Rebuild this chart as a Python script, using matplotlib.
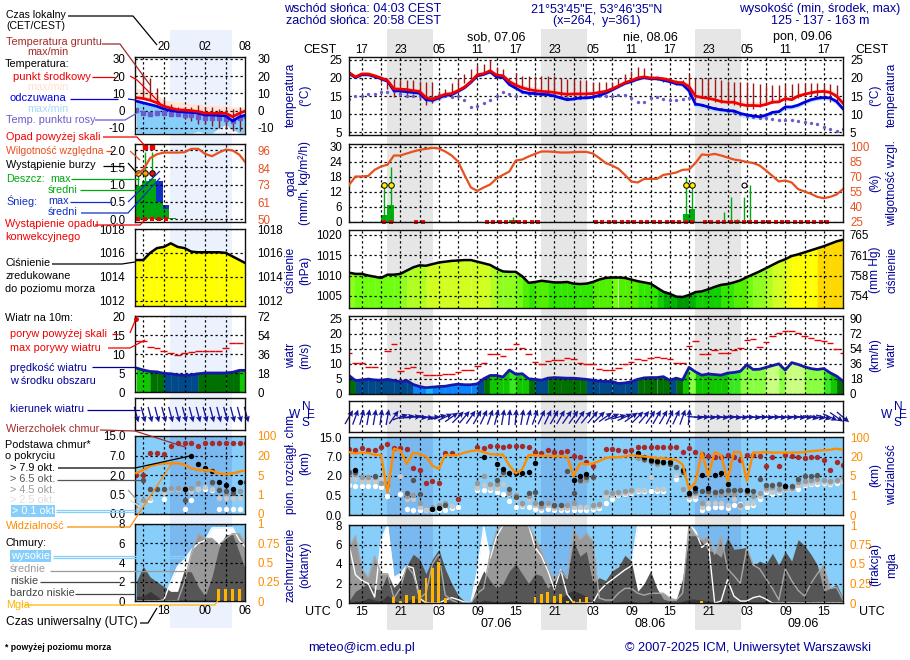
import numpy as np
import matplotlib
matplotlib.use('Agg')
import matplotlib.pyplot as plt
from matplotlib.patches import Rectangle

plt.rcParams['font.family'] = ['Liberation Sans', 'DejaVu Sans']
plt.rcParams['axes.unicode_minus'] = False
FS = 9.0
LEG = 7.8
TICK = 8.3
NAVY = '#000099'
ORANGE = '#ff8c00'
RH_COL = '#e8501e'
BROWN = '#a52a2a'
SKY = '#87cefa'
SKY_NIGHT = '#7ab9ef'
N = np.nan

# ================= dane: panel glowny (godziny od 13 UTC) =================
t_mid = [21.5,20.3,21.1,21.1,20.6,20.0,19.3,17.0,16.9,16.8,
         16.5,16.3,14.6,14.1,14.8,15.5,15.7,16.5,17.5,19.0,
         20.9,21.2,22.0,20.8,20.6,19.0,18.0,17.3,16.8,16.5,
         16.3,16.2,16.0,15.7,15.5,15.6,15.6,15.6,15.7,16.0,
         16.3,17.0,17.8,18.7,19.3,20.0,20.3,20.0,20.0,19.8,
         19.4,18.8,18.7,17.6,15.0,14.6,14.4,14.0,13.5,13.3,
         13.3,12.7,12.4,12.4,12.3,12.7,13.3,13.4,14.3,14.0,
         15.0,15.5,15.9,16.2,16.3,16.0,15.0,13.0]
t_mid_max = [22,21,21.8,21.8,21.3,20.6,19.9,18,17.6,17.5,
             17.2,17,15.5,15,15.6,16.2,16.5,17.2,18,19.5,
             21.3,21.7,22.5,21.4,21.2,20,18.9,18.2,17.8,17.5,
             17.2,17,16.8,16.5,16.3,16.4,16.4,16.4,16.5,16.7,
             17,17.6,18.3,19.2,19.8,20.5,20.8,20.5,20.4,20.2,
             19.9,19.4,19.3,18.5,16,15.6,15.4,15,14.6,14.4,
             14.3,13.8,13.5,13.5,13.5,13.8,14.3,14.3,15,14.8,
             15.7,16.2,16.6,16.9,17,16.8,15.8,13.8]
t_feels = [21.3,20.1,20.9,20.9,20.4,19.8,19.1,16.5,16.4,16.2,
           16.0,15.8,14.0,13.8,14.5,15.2,15.4,16.3,17.3,18.8,
           20.6,21,21.7,20.3,20.2,18.2,17.2,16.2,15.8,15.7,
           15.5,15.4,15,14.5,14,14.2,14.5,14.5,14.7,15.2,
           15.8,16.7,17.6,18.5,19,19.7,20.1,19.8,19.8,19.4,
           19,18.4,18.2,16.5,12.8,12.5,12,11.5,11.2,11,
           10.9,10.2,9.8,9.5,9.3,9.7,10.5,10.7,12,12,
           12.5,13.3,14,14.4,14.6,14.5,13.5,11.5]
t_feels_min = [21,19.8,20.5,20.5,20,19.4,18.7,15.8,15.6,15.4,
               15.2,15,13.3,13,13.8,14.6,15,15.9,17,18.4,
               20.2,20.6,21.2,19.8,19.7,17.7,16.6,15.6,15.3,15.2,
               15,14.9,14.5,14,13.6,13.8,14.1,14.1,14.3,14.8,
               15.4,16.3,17.2,18.1,18.6,19.3,19.7,19.4,19.4,19,
               18.6,18,17.6,15.5,12,11.7,11.2,10.8,10.4,10.2,
               10,9.3,8.9,8.6,8.6,9,9.8,10,11.3,11.3,
               11.8,12.7,13.4,13.8,14,13.8,12.7,10.8]
t_dew = [14.2,15,15,15.5,15.5,16,16,16.5,15.5,15,
         15,15,14.7,14.5,15.2,15,14.8,15,14,12,
         12.3,13,14,15,16.2,15.5,15,16,15.5,15.5,
         15.5,15.5,15.2,14.8,14.5,14.5,14.5,14.8,15,15,
         15,15,15.2,15.3,14.5,13.3,13.5,14.5,14.7,14.3,
         14,14,14.3,14.5,12.8,12.5,12,11.8,11.3,11,
         10.5,10,9.5,9.3,9,9,8.8,8.3,8.3,8.5,
         8,7.8,7.5,7.2,6.5,5.8,5.3,6]
ground_max = [N,N,N,N,N,20,20,19.8,19.5,19.5,
              19.5,19.3,19,19,16.5,17,18.5,20,21,22.5,
              23.5,24,25,23,22.5,20,21.5,20.5,20.5,20.5,
              20.5,20.5,20.5,20,19.7,19.7,19.5,19.5,19,19,
              18.8,19,20,21,22,23,22.8,21,20.5,20,
              19.5,19.5,19.5,21,20,20,20,19.8,19.5,19.3,
              19,19,19,18.7,18.3,18,18,18,18.3,18.3,
              18.5,18.5,18.5,18.5,18.3,18.3,18,N]
ground_min = [N,N,N,N,N,19,17,14.7,15,15,
              15.5,14,12.5,13,14,15.5,16,17,18.5,20,
              20.5,21,21.5,20.5,20,18,18,17,16.5,16,
              16,15.8,15.5,15,15,15,15,15,15.2,15.5,
              16,17,17.5,18.5,19,19.5,20,19.5,19.5,19,
              18.5,18,18,16,14,14.5,14,13.5,13,13,
              12.5,12,11.8,11.5,12,13,13,13.5,13.5,14,
              14.5,15,15,15,14.5,13.5,13,N]
rh = [61.5,70,70,70.6,76.7,80,81.8,91,91,93,
      95,96.6,97.6,98.6,98,95,91,85,71.6,59,
      55.7,59,62,68,71.6,75,86,87,90,92.6,
      95,95,94.6,94,94,94.3,94.6,94.6,93,88.5,
      83.5,81,77.7,71.6,65,64,67.6,67.6,67.6,71.6,
      72.6,74,76.7,77,83.5,92,91.5,92.6,91,89,
      87,86,84.5,83.5,81,76,70.6,65,66,64,
      57.4,55,52.7,49.6,48.3,49.6,52,57.4]
rain_h = [5.5,6.5,25.5,52.5,53.5,60.5]
rain_mean = [2.5,6.5,0.6,3,5,0.7]
rain_max_h = [5.5,6.5,25.5,52.5,53.5,58.5,59.5,60.5,61.5,62.5]
rain_max = [14.5,22,2,18,14,4,10,1,10,14.5]
storm_h = [5.5,6.5,52.5,53.5]
storm_val = [14.5,14.5,14.5,14.5]
storm_open_h = [61.5]
storm_open_val = [14.5]
conv_h = [5.5,6.5,10.5,11.5,21.5,22.5,23.5,24.5,25.5,26.5,27.5,28.5,29.5,
          38.5,39.5,40.5,41.5,42.5,43.5,44.5,45.5,46.5,47.5,48.5,49.5,50.5,51.5,
          52.5,53.5,55.5,56.5,57.5,58.5,59.5,60.5,61.5,62.5,63.5,64.5,65.5,66.5,
          67.5,68.5,69.5,70.5,71.5,72.5,73.5,74.5]
pressure = [1010.7,1010.4,1010.4,1010,1009.7,1009.4,1010.2,1010.2,1010.4,1011.2,
            1012,1012.5,1012.4,1012.8,1013.2,1013.4,1013.6,1013.7,1013.8,1013.8,
            1013.4,1013,1012.6,1011.7,1011,1010.9,1010.9,1009.8,1008.2,1008.4,
            1008.7,1008.5,1008.3,1008.3,1008.4,1008,1007.9,1008,1008.4,1009,
            1009.4,1009.5,1009.5,1009.4,1009,1008.6,1008.3,1008,1007,1006,
            1005.5,1004.8,1004.7,1005.2,1005.9,1006.1,1006.6,1007.2,1007.7,1007.9,
            1008.3,1008.8,1009.6,1010.3,1011,1011.8,1012.6,1013.4,1014,1014.8,
            1015.2,1015.7,1016.2,1016.7,1017.2,1017.8,1018.4,1018.8]
wind = [6.1,4.4,4.6,4.9,4.6,4.5,4.8,4.4,4,4.4,
        3.1,2.4,2,2.2,2.4,2.5,2.9,3.2,3,3,
        3.3,5,6.1,6.1,5.6,7.9,6.5,6.7,5,4.8,
        4.5,5.2,5.4,5.3,5.2,5.2,5,4.8,4.5,4.2,
        4.1,4.1,3.4,3.6,4,4.8,5.3,5.4,5.4,5.7,
        4.5,5.2,4.6,8.8,7.3,6.2,6.6,6.4,6.2,6.9,
        7.1,7.5,9.7,8.1,8.2,8.8,9.4,10,7.9,10.4,
        9.8,9,8.4,8.1,8.4,7,5.9,4.2]
gust = [13.6,10.3,10.3,9,9,N,14.3,16.7,7.7,8.6,
        9,7.4,6.1,6.3,6.3,6.5,6.5,7.2,8,8,
        9.3,10.3,13.3,13.3,12.6,15,16.7,15.3,13.4,10.6,
        10,10.8,11.3,11.3,12,11.6,10.3,10,10,8.3,
        8,8,8.6,10,10.6,11.6,11.3,12,12.3,12,
        11.6,10.3,10.3,15.8,17.6,13.3,13.3,14.6,13.6,13.6,
        14.6,15.3,17.9,18.3,15.6,17.3,19.2,20.2,21,21,
        20.2,19.2,18.8,17.9,17.6,17,15,13.6]
wind_dir = [30,20,15,10,10,8,10,35,70,80,
            85,95,100,90,75,65,55,45,40,35,
            30,25,20,15,10,5,5,10,15,20,
            25,25,30,30,35,35,35,40,40,45,
            55,65,75,65,55,45,40,35,30,30,
            25,25,20,5,95,90,95,90,95,90,
            95,95,90,95,90,95,90,95,95,90,
            95,95,100,100,105,115,125,130]
vis = [37.6,32,36,34,27,26,1.6,52,45,14.3,
       36,30,20,13,10.4,26,25,26,36,42,
       46,38,30,28,28,13,7.1,10,26,25,
       23,23,21,21,20,5,14.6,14,14.6,16.5,
       18.7,19.5,19.5,20,25,23,20,19.5,18.7,18.7,
       18,17.4,13.8,2.3,3.7,38,5,38,26,4,
       38,38,4,36,36,38,36,36,36,36,
       36,38,42,44,46,48,52,48]
cl_top = [10.2,9.5,10.4,9.8,9.8,10.9,12,10.5,10.3,10,
          4,3.5,1.5,1.6,1.5,8.6,8.4,.4,N,N,
          10.9,10.6,11.4,11.4,10.9,11.4,11.4,11.4,10.9,8.8,
          8.4,9.7,8.8,8.8,9.2,7.1,7,5.5,4.5,N,
          9.9,10.1,9.8,9.2,9.8,10.9,10.9,10.9,10.9,10.9,
          10.9,10.9,8.9,10.4,8.9,8.1,7.2,6.9,7,7.7,
          6.8,6.2,7.7,7.7,7.3,4.5,6.9,4.5,7.7,7.2,
          7,6.6,7,6.8,6.2,3.5,5.5,4.8]
cl_black_h = [1,13,14,21,23,24,25,26,27,28,29,35,36,37,45,46,47,48,49,50,52,53,54,55,56,57,58,59,62,68]
cl_black = [3.5,.15,.17,7,5.1,3.9,2.7,2.7,2.7,3,5.3,1.66,2,2.4,8.5,7,6,5.8,5.7,5.5,3.5,.68,1.04,2.3,1.1,2.2,2.8,1.38,.93,1.25]
cl_dark = [3,3,N,N,2,N,1.4,N,N,.7,
           1.7,.6,N,.15,N,.25,N,N,N,N,
           N,N,N,1.7,3,1,.45,N,.7,.75,
           .3,N,.25,.25,3.2,.7,1.7,1.9,1.9,N,
           N,N,N,N,N,7.5,6.4,5.8,5.5,5.5,
           5.2,4.4,3,.6,.85,.85,.85,.8,.85,.9,
           .9,.9,.85,.85,1.8,1.3,1.3,1.4,1.2,1.2,
           1.8,2,2.1,2.2,N,N,N,N]
cl_grey = [2.6,2.6,1.9,1.9,1.9,1.5,1.2,N,N,.5,
           .55,.3,N,.2,.25,.3,N,N,N,N,
           1.5,2,1.4,1.4,2.4,.7,.55,.3,.5,.3,
           .22,.3,.22,.25,.25,.3,1.6,1.7,.25,.28,
           .75,.7,.8,.85,.9,6.5,6,5.5,5.2,5.3,
           5,4.2,1,.55,.7,.3,.65,.6,.65,.7,
           .65,.25,.7,.5,.7,1.1,1.15,1,1.05,1.05,
           1.55,1.6,1.7,1.8,1.7,1.6,1.7,1.9]
cl_light = [1.8,1.8,1.6,1.6,1.6,1.8,1,N,2.1,.4,
            .4,.2,.13,.17,.25,.3,.24,N,N,N,
            1.1,1.3,1.1,1.1,1.4,.6,.4,.25,.4,.25,
            .18,.25,.18,.18,.18,.2,.2,.2,.2,.22,
            .5,.55,.65,.7,.8,.95,.95,1.9,1,1,
            N,2.2,1,.45,.5,.2,.3,.3,.3,.25,
            .4,.2,.3,.3,.5,.9,.8,.85,1,1,
            1.3,1.4,1.5,1.55,1.55,1.5,1.6,1.7]
cl_white = [1.3,1.25,1.22,1.22,1.22,1.12,.49,N,.65,.15,
            .14,.14,.14,.12,.14,.14,.19,.21,N,N,
            .95,.9,.9,.76,.65,.37,.21,.22,.21,.15,
            .14,.15,.14,.14,.14,.14,.14,.14,.15,.17,
            .3,.42,.55,.6,.68,.86,.86,.86,.88,.88,
            N,1.8,N,.4,.42,.14,.19,.21,.21,.19,
            .26,.28,.21,.26,.42,.8,.65,.76,.99,1.03,
            1.03,1.3,1.38,1.42,1.46,1.42,1.5,1.58]
cloud_high = [6,2.9,2.3,2,.6,6.4,8,2.6,3,3.8,
              3.6,.5,0,0,0,.3,.55,.35,.1,0,
              3.3,7.8,4.6,6.8,8,8,8,8,8,5.7,
              4.8,3.3,1.4,3.4,.9,0,0,0,0,1.2,
              1.9,2.4,2.9,3.4,3.8,8,7.8,8,8,8,
              8,8,7.8,8,7.4,5.7,6.2,0,.2,2.4,
              .7,.2,.2,.55,.7,.4,0,0,0,0,
              0,0,0,0,0,0,0,0]
cloud_mid = [5.7,6.9,3.5,2.6,4.8,3,3,.5,1.5,3.8,
             3,.5,1,4,5,.8,.3,0,0,0,
             1,1.5,5,7.4,8,8,8,8,8,6.7,
             5.3,3.6,2.3,3.3,2.5,7.6,6.5,7.2,6.3,.5,
             .3,.3,1,1.5,1.5,1,.8,1,1,1,
             .5,.3,1,8,7,6.5,6.8,5,6.9,3.5,
             2.8,2,5.7,3.9,3.5,2.5,1.5,.3,3.5,2.3,
             1.3,.7,2,3,3.9,1.5,1.6,.3]
cloud_low = [.2,1.2,1.6,2,1.4,1.4,3,1.6,2.3,3.8,
             5,4.5,3,4.5,5.5,3.5,2,.8,.2,0,
             1.8,3.3,2.3,1.5,2,3.3,4,3,2,3,
             2.8,1.5,2.3,3.5,2.6,6.3,4.8,5.3,2,2.6,
             2.3,3.3,3.7,4.9,4.3,1.2,2,3.3,1.5,.4,
             .2,.3,2.5,6.9,6.9,6.3,5.4,5.2,4.7,6.7,
             5.5,5.6,5.7,3.8,4.3,4,5.1,3.9,5.3,4.3,
             6.5,5.9,5,3.9,1.2,1.5,1.9,.5]
cloud_vlow = [0,.2,.2,.5,.3,.2,.8,.3,0,.2,
              .5,.4,.1,.2,.3,.2,0,0,0,0,
              0,.3,.2,.1,.1,.2,.2,.1,0,0,
              0,0,0,.5,1,1.3,1,.7,0,0,
              0,0,.1,.2,.2,0,0,.2,0,0,
              0,0,.2,.4,.4,.3,.2,.2,.2,.3,
              .2,.2,.2,.1,.1,.1,.2,.1,.2,.1,
              .2,.2,.2,.1,0,0,0,0]
fog_h = [7,8,9,10,11,12,13,14,15,29,30,31,32,33,34,35,36,37,55]
fog = [.08,.03,.1,.09,.17,.32,.45,.52,.07,.08,.12,.145,.09,.11,.03,.03,.05,.08,.03]

# ================= dane: male panele legendy (14-30 UTC) =================
s_mid = [7.5,7,6,4.5,2.5,1.5,.5,.3,0,-.5,-1.5,-1.5,-1.5,-1.5,-3.5,-1.5,0]
s_mid_max = [13,12,11,9,6.5,5.5,5,4.5,4,3.8,3.2,3,3,2.8,2.2,2,2]
s_feels = [5.5,4.5,3.5,2.5,1,0,-.5,-.8,-1,-1.5,-2.5,-2.5,-2.8,-3,-6,-3.5,-2.5]
s_feels_min = [-13,-13,-13,-13,-13,-13,-13,-13,-13,-12,-13,-13,-10,-8,-11,-13,-13]
s_dew = [.5,-1.5,-2,-1.5,-1.5,-2,-2,-2.5,-2.5,-3.5,-4,-4.5,-4.5,-5,-6,-4,-3]
s_ground_max = [N,21,19,13,7,4,2,2,2,3,2,2,1,1,1,2,3]
s_ground_min = [N,7,6,4,1,-2,-3,-4,-6,-8,-8,-9,-10,-10,-12,-12,-4]
s_rh = [80,83,90.7,93.3,94.4,94.4,94.4,94.6,96.9,96.9,93.5,92,94.4,96.4,95.8,92.9,87]
s_rain_h = [14.3,15.3,16.3,17.3,18.3,19.3]
s_rain = [.95,1.1,1.18,.5,.3,.05]
s_snow = [.95,1.1,1.18,1.1,.4,.05]
s_rain_max = [1.35,1.95,1.95]
s_storm_col = ['#ffee00','#ffa000','#e81010']
s_pressure = [1015.4,1015.4,1016,1016.4,1016.5,1016.8,1016.5,1016.4,1016.1,1016.05,1016.05,1016.05,1016.05,1016,1015.7,1015.4,1015.1]
s_wind = [6.3,5.8,5.4,5.3,4.9,4.8,4.5,4.4,4.5,4.8,5,5,5,5,5.2,5.7,5.7]
s_gust = [13.5,13.5,11.8,11.5,10.8,10.3,9.8,10.3,10.6,10.8,10.9,10.7,10.7,11.6,12.8,13,N]
s_dir = [165,165,165,165,165,165,165,165,165,165,165,165,165,165,165,165,165]
s_top = [2,2,8,8,7.5,11,12,12,12,11,12,12,12,12,12,12,12]
s_black = [N,N,N,N,N,N,N,.95,7,4.7,3.9,3.1,1.5,1.2,.95,1.5,N]
s_dark = [N,1.6,.95,.95,.95,N,N,.35,N,N,N,1.5,.85,.75,.65,N,1.5]
s_grey = [.23,.35,.9,.9,.95,1,1,1,1,1.35,3.2,1.35,.9,.65,.75,.75,N]
s_light = [.18,.3,.4,N,.7,.95,.95,.9,.8,.9,1.1,.95,.4,.4,.4,.4,N]
s_white = [N,.35,.35,N,.38,N,N,.12,.35,.9,.9,.85,.12,.12,.12,.12,N]
s_vis = [6.5,8.8,11.9,13.2,14,14,14,13,10,8.8,8.8,8.3,6.3,5.5,6.3,7.5,8.8]
s_high = [0,0,0,0,.1,2,3.6,4.3,5.3,6,6.3,7.6,7.6,7.6,7.6,6.3,5.5]
s_cmid = [0,0,0,0,0,0,0,2,5,7,6.5,6.5,5.8,6.5,7,7,5.7]
s_low = [2,3.6,2.5,2,1.5,1,1,3.3,3,1.5,.5,2.5,5.5,6.9,6.9,5,3]
s_vlow = [.5,.5,1,.5,0,0,0,0,0,0,0,0,0,0,0,0,0]
s_fog_h = [26,27,28,29]
s_fog = [.15,.15,.15,.15]

# ================= etykiety =================
cest_labels = ['17','23','05','11','17','23','05','11','17','23','05','11','17']
utc_labels = ['15','21','03','09','15','21','03','09','15','21','03','09','15']
date_labels = ['07.06','08.06','09.06']
day_labels = ['sob, 07.06','nie, 08.06','pon, 09.06']
night_spans = [(5.97,13.05),(29.97,37.05),(53.95,61.05)]

hours = np.arange(78)
s_hours = np.arange(14,31)
MAIN_X = (349,843)
SMALL_X = (135,245)

fig = plt.figure(figsize=(9.1,6.6),dpi=100,facecolor='white')


def new_axes(box,y_top,y_bot,zorder=2):
    a = fig.add_axes([box[0]/910,1-y_bot/660,(box[1]-box[0])/910,(y_bot-y_top)/660])
    a.set_facecolor('none')
    a.set_zorder(zorder)
    for s in a.spines.values():
        s.set_linewidth(1.0)
        s.set_color('#111111')
        s.set_zorder(6)
    a.set_axisbelow(False)
    a.grid(True,color='k',ls=(0,(1.8,2.2)),lw=0.9)
    return a


def setup(a,small,yl,yt,ylab=None,ry=None,ryt=None,rlab=None,rcol='k'):
    pad = 7 if small else 5
    a.tick_params(length=0,labelsize=TICK,pad=pad)
    if small:
        a.set_xlim(13.8,29.8)
        a.set_xticks(np.arange(15,30,3))
    else:
        a.set_xlim(0,77)
        a.set_xticks(np.arange(2,77,3))
    a.set_xticklabels([])
    a.set_ylim(*yl)
    a.set_yticks(yt)
    if ylab is not None:
        a.set_yticklabels(ylab)
    b = a.twinx()
    b.set_zorder(a.get_zorder()+1)
    b.set_ylim(*(ry if ry is not None else yl))
    b.set_yticks(ryt if ryt is not None else yt)
    if rlab is not None:
        b.set_yticklabels(rlab)
    elif ylab is not None and ryt is None:
        b.set_yticklabels(ylab)
    b.tick_params(length=0,labelsize=TICK,pad=pad+2 if small else pad,labelcolor=rcol)
    for s in b.spines.values():
        s.set_visible(False)
    return b


def step_color(v,edges,colors):
    return colors[int(np.digitize(v,edges))]


def value_fill(a,x,v,base,edges,colors):
    for i in range(len(x)-1):
        c = step_color(0.5*(v[i]+v[i+1]),edges,colors)
        a.fill_between(x[i:i+2],base,v[i:i+2],color=c,lw=0.2,zorder=1)


P_EDGES = [1005,1006,1007.5,1008.5,1009.5,1010.5,1011.5,1012.5,1014,1015,1016.7]
P_COLS = ['#009a00','#00b400','#10d000','#30e800','#50f000','#70ff10','#90ff20','#b0ff20','#d0ff20','#f0ff10','#ffff00','#ffd800']
W_EDGES = [2.2,3.5,4.9,5.6,7,8,9,10.2]
W_COLS = ['#10b8ff','#0a84ff','#004a8c','#007000','#10c800','#38e820','#88ff40','#c8ff80','#ffff40']

CL_KM = [0,.5,2,7,15]
VIS_KM = [0,1,5,20,100]
POS = [0,1,2,3,4]


def cl_f(v):
    return np.interp(v,CL_KM,POS)


def cl_i(v):
    return np.interp(v,POS,CL_KM)


def vis_f(v):
    return np.interp(v,VIS_KM,POS)


def vis_i(v):
    return np.interp(v,POS,VIS_KM)


def panel_temp(box,small,top,bot):
    x = s_hours if small else hours
    a = new_axes(box,top,bot)
    if small:
        setup(a,True,(-13.5,31),[-10,0,10,20,30])
        a.fill_between(x,s_mid,s_mid_max,color='#ffe4d6',lw=0,zorder=1)
        a.fill_between(x,s_feels_min,s_feels,color=SKY,lw=0,zorder=1)
        a.vlines(x,s_ground_min,s_ground_max,color='#8b1a1a',lw=1,zorder=3)
        a.plot(x,s_dew,ls='none',marker='s',ms=2.4,color='#6a5acd',zorder=3)
        a.plot(x,s_feels,color='#0000e0',lw=2,zorder=4)
        a.plot(x,s_mid,color='#f00000',lw=2,zorder=5)
    else:
        setup(a,False,(4.25,25.8),[5,10,15,20,25])
        a.fill_between(x,t_mid,t_mid_max,color='#ffd8d0',alpha=0.8,lw=0,zorder=1)
        a.fill_between(x,t_feels_min,t_feels,color='#b8e4fc',alpha=0.9,lw=0,zorder=1)
        a.vlines(x,ground_min,ground_max,color='#a01818',lw=1,zorder=3)
        a.plot(x,t_dew,ls='none',marker='o',ms=2.4,color='#6a5acd',mew=0,zorder=3)
        a.plot(x,t_feels,color='#0000e0',lw=2,zorder=4)
        a.plot(x,t_mid,color='#f00000',lw=2,zorder=5)


def panel_rain(box,small,top,bot):
    a = new_axes(box,top,bot)
    if small:
        b = setup(a,True,(-0.08,2.18),[0,.5,1,1.5,2],['0.0','0.5','1.0','1.5','2.0'],
                  ry=(48.2,100.1),ryt=[50,61,73,84,96],rcol=RH_COL)
        a.bar(s_rain_h,s_snow,width=1,color='#1030c8',lw=0,zorder=1)
        a.bar(s_rain_h,s_rain,width=1,color='#00a810',lw=0,zorder=1.2)
        a.vlines(s_rain_h[:3],s_rain[:3],s_rain_max,color='#00a810',lw=1,zorder=3)
        for h,c in zip(s_rain_h[:3],s_storm_col):
            a.plot([h],[1.35],marker='o',ms=4,mfc=c,mec='k',mew=.7,zorder=6)
        a.plot(s_rain_h[1:3],[2.1,2.1],ls='none',marker='s',ms=2.5,color='#f00000',zorder=6,clip_on=False)
        a.plot(s_rain_h[:5],[0]*5,ls='none',marker='s',ms=2.2,color='#f00000',mew=0,zorder=6,clip_on=False)
        b.plot(s_hours,s_rh,color=RH_COL,lw=1.6,zorder=5)
    else:
        b = setup(a,False,(-.2,31),[0,6,12,18,24,30],
                  ry=(24.5,102.5),ryt=[25,40,55,70,85,100],rcol=RH_COL)
        a.bar(rain_h,rain_mean,width=1,color='#00b010',lw=0,zorder=1)
        a.vlines(rain_max_h,0,rain_max,color='#00a810',lw=1,zorder=3)
        a.plot(storm_h,storm_val,ls='none',marker='o',ms=4,mfc='#ffee00',mec='k',mew=.7,zorder=6)
        a.plot(storm_open_h,storm_open_val,ls='none',marker='o',ms=3.6,mfc='white',mec='k',mew=.8,zorder=6)
        a.plot(conv_h,[0]*len(conv_h),ls='none',marker='s',ms=2.4,color='#f01010',mew=0,zorder=6,clip_on=False)
        b.plot(hours,rh,color=RH_COL,lw=1.6,zorder=5)


def panel_press(box,small,top,bot):
    a = new_axes(box,top,bot)
    if small:
        setup(a,True,(1011.55,1018),[1012,1014,1016,1018])
        value_fill(a,s_hours,s_pressure,1011.55,P_EDGES,P_COLS)
        a.plot(s_hours,s_pressure,color='k',lw=1.8,zorder=5)
    else:
        setup(a,False,(1002,1021.2),[1005,1010,1015,1020],ryt=[1005,1010,1015,1020],
              rlab=['754','758','761','765'])
        value_fill(a,hours,pressure,1002,P_EDGES,P_COLS)
        a.plot(hours,pressure,color='k',lw=1.8,zorder=5)


def panel_wind(box,small,top,bot):
    a = new_axes(box,top,bot)
    if small:
        setup(a,True,(0,20),[0,5,10,15,20],ry=(0,20),ryt=[0,5,10,15,20],rlab=['0','18','36','54','72'])
        value_fill(a,s_hours,s_wind,0,W_EDGES,W_COLS)
        a.plot(s_hours,s_wind,color='#1818a8',lw=2,zorder=5)
        a.hlines(s_gust,s_hours-.5,s_hours+.5,color='#f00000',lw=1,zorder=5)
        a.plot([14],[19.2],marker='o',ms=2.5,color='#f00000',zorder=6,clip_on=False)
    else:
        setup(a,False,(-.1,26),[0,5,10,15,20,25],ryt=[0,5,10,15,20,25],
              rlab=['0','18','36','54','72','90'])
        value_fill(a,hours,wind,0,W_EDGES,W_COLS)
        a.plot(hours,wind,color='#1818a8',lw=2,zorder=5)
        a.hlines(gust,hours-.5,hours+.5,color='#f00000',lw=1,zorder=5)


def panel_dir(box,small,top,bot):
    a = new_axes(box,top,bot)
    a.tick_params(length=0)
    if small:
        a.set_xlim(13.8,29.8)
        a.set_xticks(np.arange(15,30,3))
        x,d = s_hours,np.radians(s_dir)
    else:
        a.set_xlim(0,77)
        a.set_xticks(np.arange(2,77,3))
        x,d = hours,np.radians(wind_dir)
    a.set_xticklabels([])
    a.set_ylim(0,1)
    a.set_yticks([])
    q = a.quiver(x,np.full(len(x),.48),16*np.sin(d),16*np.cos(d),angles='uv',scale_units='dots',scale=1,
                 units='dots',width=1.3,headwidth=4.6,headlength=4.8,headaxislength=4.2,pivot='mid',
                 color='#16169a',zorder=4)
    q.set_clip_on(False)


def panel_base(box,small,top,bot):
    a = new_axes(box,top,bot)
    a.set_yscale('function',functions=(cl_f,cl_i))
    x = s_hours if small else hours
    b = setup(a,small,(0,15),[0,.5,2,7,15],['0.0','0.5','2.0','7.0','15.0'],
              ry=(0,100),ryt=[0,1,5,20,100],rlab=['0','1','5','20','100'],rcol=ORANGE)
    b.set_yscale('function',functions=(vis_f,vis_i))
    b.set_ylim(0,100)
    b.set_yticks([0,1,5,20,100])
    b.set_yticklabels(['0','1','5','20','100'])
    b.minorticks_off()
    a.minorticks_off()
    a.set_facecolor(SKY)
    if small:
        a.axvspan(18.9,27.9,color=SKY_NIGHT,lw=0,zorder=0.5)
        layers = [(s_white,'white'),(s_light,'#c8c8c8'),(s_grey,'#999999'),(s_dark,'#555555'),(s_top,BROWN)]
    else:
        for s in night_spans:
            a.axvspan(s[0],s[1],color=SKY_NIGHT,lw=0,zorder=0.5)
        layers = [(cl_white,'white'),(cl_light,'#c8c8c8'),(cl_grey,'#999999'),(cl_dark,'#555555'),(cl_top,BROWN)]
    ms = 15
    for vals,c in layers:
        a.scatter(x,vals,s=ms,color=c,lw=0,zorder=3)
    if small:
        a.scatter(x,s_black,s=ms,color='k',lw=0,zorder=3.5)
        b.plot(x,s_vis,color=ORANGE,lw=1.7,zorder=5)
    else:
        a.scatter(cl_black_h,cl_black,s=ms,color='k',lw=0,zorder=3.5)
        b.plot(x,vis,color=ORANGE,lw=1.7,zorder=5)


def panel_cloud(box,small,top,bot):
    a = new_axes(box,top,bot)
    b = setup(a,small,(0,8),[0,2,4,6,8],ry=(0,1),ryt=[0,.25,.5,.75,1],
              rlab=['0','0.25','0.5','0.75','1'],rcol=ORANGE)
    a.set_facecolor(SKY)
    x = s_hours if small else hours
    if small:
        a.axvspan(18.9,27.9,color=SKY_NIGHT,lw=0,zorder=0.5)
        h,m,l,v = s_high,s_cmid,s_low,s_vlow
    else:
        for s in night_spans:
            a.axvspan(s[0],s[1],color=SKY_NIGHT,lw=0,zorder=0.5)
        h,m,l,v = cloud_high,cloud_mid,cloud_low,cloud_vlow
    a.fill_between(x,0,h,color='white',lw=0,zorder=1)
    a.fill_between(x,0,m,color='#999999',lw=0,zorder=1.1)
    a.fill_between(x,0,l,color='#565656',lw=0,zorder=1.2)
    a.fill_between(x,0,v,color='#383838',lw=0,zorder=1.3)
    a.plot(x,h,color='white',lw=1,zorder=2)
    a.plot(x,m,color='#a8a8a8',lw=1,zorder=2)
    if small:
        b.bar(s_fog_h,s_fog,width=.45,color='#ffb400',lw=0,zorder=3)
    else:
        b.bar(fog_h,fog,width=.45,color='#ffb400',lw=0,zorder=3)


# ---- tlo: pasy nocy ----
bg = fig.add_axes([0,0,1,1],zorder=0)
bg.set_xlim(0,910)
bg.set_ylim(660,0)
bg.axis('off')
for x0,x1 in [(387,433),(541,587),(695,741)]:
    bg.add_patch(Rectangle((x0,29),x1-x0,601,color='#e6e6e6',lw=0))
bg.add_patch(Rectangle((170,30),62,598,color='#ebf2fd',lw=0))

# ---- panele ----
main_rows = [(57,135),(144,222),(230,308),(316,394),(401,432),(437,515),(525,603)]
small_rows = [(57,134),(144,222),(229,306),(316,392),(398,430),(436,514),(524,601)]
funcs = [panel_temp,panel_rain,panel_press,panel_wind,panel_dir,panel_base,panel_cloud]
for fn,r in zip(funcs,main_rows):
    fn(MAIN_X,False,r[0],r[1])
for fn,r in zip(funcs,small_rows):
    fn(SMALL_X,True,r[0],r[1])

# ---- warstwa tekstow i linii prowadzacych ----
fg = fig.add_axes([0,0,1,1],zorder=20)
fg.set_xlim(0,910)
fg.set_ylim(660,0)
fg.axis('off')


def txt(x,y,s,c='k',ha='left',rot=0,fs=FS,**kw):
    fg.text(x,y,s,color=c,ha=ha,va='center',rotation=rot,fontsize=fs,**kw)


def leg(x,y,s,c='k',fs=LEG):
    txt(x,y,s,c,fs=fs)


def lead(pts,c='k',lw=0.9):
    fg.plot([p[0] for p in pts],[p[1] for p in pts],color=c,lw=lw,solid_capstyle='butt')


txt(363,9,'wschód słońca: 04:03 CEST',NAVY,'center')
txt(363,21,'zachód słońca: 20:58 CEST',NAVY,'center')
txt(597,9,'21°53\'45"E, 53°46\'35"N',NAVY,'center')
txt(597,21,'(x=264,  y=361)',NAVY,'center')
txt(820,9,'wysokość (min, środek, max)',NAVY,'center')
txt(820,21,'125 - 137 - 163 m',NAVY,'center')
for x,s in zip([496,650,803],day_labels):
    txt(x,37,s,'k','center')
for x,s in zip([496,650,803],date_labels):
    txt(x,624,s,'k','center')
txt(320,50,'CEST','k','center')
txt(872,50,'CEST','k','center')
txt(318,612,'UTC','k','center')
txt(872,612,'UTC','k','center')
for i,(c,u) in enumerate(zip(cest_labels,utc_labels)):
    txt(362+i*38.5,50,c,'k','center',fs=TICK)
    txt(362+i*38.5,612,u,'k','center',fs=TICK)
for x,s in zip([164,205,245],['20','02','08']):
    txt(x,47,s,'k','center',fs=TICK)
for x,s in zip([164,205,245],['18','00','06']):
    txt(x,611,s,'k','center',fs=TICK)

# opisy osi
left_lab = [(95,'temperatura','(°C)'),(183,'opad','(mm/h, kg/m²/h)'),(270,'ciśnienie','(hPa)'),
            (355,'wiatr','(m/s)'),(463,'pion. rozciągł. chm.','(km)'),(565,'zachmurzenie','(oktanty)')]
right_lab = [(95,'(°C)','temperatura'),(183,'(%)','wilgotność wzgl.'),(270,'(mm Hg)','ciśnienie'),
             (355,'(km/h)','wiatr'),(475,'(km)','widzialność'),(565,'(frakcja)','mgła')]
for y,a1,a2 in left_lab:
    txt(291,y,a1,NAVY,'center',90,fs=8.6)
    txt(305,y,a2,NAVY,'center',90,fs=8.6)
for y,a1,a2 in right_lab:
    txt(875,y,a1,NAVY,'center',90,fs=8.6)
    txt(892,y,a2,NAVY,'center',90,fs=8.6)
for off in (0,-592):
    txt(898+off,407,'N',NAVY,'center',fs=8.6)
    txt(887+off,415,'W',NAVY,'center',fs=8.6)
    txt(903+off,415,'E',NAVY,'center',fs=8.6)
    txt(897+off,423,'S',NAVY,'center',fs=8.6)

# legenda po lewej
leg(6,15,'Czas lokalny',fs=7.6)
leg(6,26,'(CET/CEST)',fs=7.6)
lead([(68,16),(133,16),(157,45)])
leg(6,42,'Temperatura gruntu',BROWN)
leg(27,52,'max/min',BROWN)
lead([(102,44),(120,44),(150,85)],BROWN)
leg(5,64,'Temperatura:')
leg(13,77,'punkt środkowy','#f00000',8)
lead([(92,77),(115,77)],'#f00000')
lead([(130,76),(137,80),(160,103)],'#f00000')
leg(27,87,'max/min','#ffe0d0')
leg(10,98,'odczuwana','#0000e0',8)
lead([(70,99),(118,99)],'#0000e0')
lead([(128,99),(135,100)],'#0000e0')
leg(27,109,'max/min','#a8d8f8')
leg(6,120,'Temp. punktu rosy','#6a5acd')
lead([(95,120),(125,120),(137,113)],'#6a5acd')
leg(6,137,'Opad powyżej skali','#f00000')
lead([(103,137),(137,137),(146,147)],'#f00000')
leg(6,151,'Wilgotność względna',RH_COL,7.5)
lead([(106,151),(112,151)],RH_COL)
lead([(130,151),(140,160)],RH_COL)
leg(6,165,'Wystąpienie burzy')
lead([(103,166),(124,166)])
lead([(128,163),(136,172)])
leg(6,179,'Deszcz:','#00a810')
leg(50,179,'max','#00a810')
leg(48,190,'średni','#00a810')
lead([(71,179),(139,179)],'#00a810')
lead([(80,190),(143,190)],'#00a810')
leg(6,201,'Śnieg:','#1030c8')
leg(48,201,'max','#1030c8')
leg(48,212,'średni','#1030c8')
lead([(70,202),(112,202)],'#1030c8')
lead([(128,202),(160,171)],'#1030c8')
lead([(81,213),(128,213),(160,178)],'#1030c8')
leg(5,224,'Wystąpienie opadu','#f00000')
leg(5,237,'konwekcyjnego','#f00000')
lead([(95,225),(140,225),(147,218)],'#f00000')
leg(5,263,'Ciśnienie')
lead([(52,264),(122,264),(135,262)])
leg(5,276,'zredukowane')
leg(5,289,'do poziomu morza')
leg(5,318,'Wiatr na 10m:')
leg(10,334,'poryw powyżej skali','#f00000')
lead([(112,334),(118,334)],'#f00000')
lead([(130,333),(137,316)],'#f00000')
leg(10,348,'max porywy wiatru','#f00000')
lead([(108,348),(130,348),(145,340)],'#f00000')
leg(10,368,'prędkość wiatru',NAVY)
lead([(92,367),(135,367)],NAVY)
leg(10,381,'w środku obszaru',NAVY)
leg(10,409,'kierunek wiatru',NAVY)
lead([(87,410),(140,410)],NAVY)
leg(6,429,'Wierzchołek chmur',BROWN)
lead([(100,430),(135,431),(185,447)],BROWN)
leg(5,445,'Podstawa chmur*')
leg(5,456,'o pokryciu')
leg(10,468,'> 7.9 okt.')
lead([(58,468),(135,468),(190,456)])
leg(10,479,'> 6.5 okt.','#555555')
lead([(57,480),(143,480)],'#555555')
leg(10,490,'> 4.5 okt.','#999999')
lead([(128,490),(137,500)],'#999999')
leg(10,500,'> 2.5 okt.','#dddddd')
lead([(130,500),(140,507)],'#dddddd')
fg.add_patch(Rectangle((11,505),44,12,color=SKY,lw=0))
leg(12,511,'> 0.1 okt.','white')
lead([(56,510),(135,510)],SKY)
lead([(56,512),(135,512)],SKY)
leg(6,526,'Widzialność',ORANGE)
lead([(67,527),(130,527),(172,463)],ORANGE)
leg(5,543,'Chmury:')
fg.add_patch(Rectangle((10,550),41,12,color=SKY,lw=0))
leg(11,556,'wysokie','white')
lead([(53,556),(186,556)],SKY)
lead([(53,558),(186,558)],SKY)
leg(10,569,'średnie','#999999')
lead([(50,571),(192,571)],'#999999')
leg(10,581,'niskie','#444444')
lead([(40,582),(120,582)],'#444444')
lead([(130,582),(135,582)],'#444444')
leg(10,593,'bardzo niskie','#444444')
lead([(75,594),(135,594)],'#444444')
leg(6,605,'Mgła','#ffb400')
lead([(25,605),(215,605),(218,600)],'#ffb400')
leg(6,622,'Czas uniwersalny (UTC)',fs=8.7)
lead([(140,623),(148,623),(157,608)])
txt(5,648,'* powyżej poziomu morza','k',fs=6.2,fontweight='bold')
txt(308,648,'meteo@icm.edu.pl',NAVY,fs=9.2)
txt(625,648,'© 2007-2025 ICM, Uniwersytet Warszawski',NAVY,fs=9.2)

fig.savefig('out.png',dpi=100)
